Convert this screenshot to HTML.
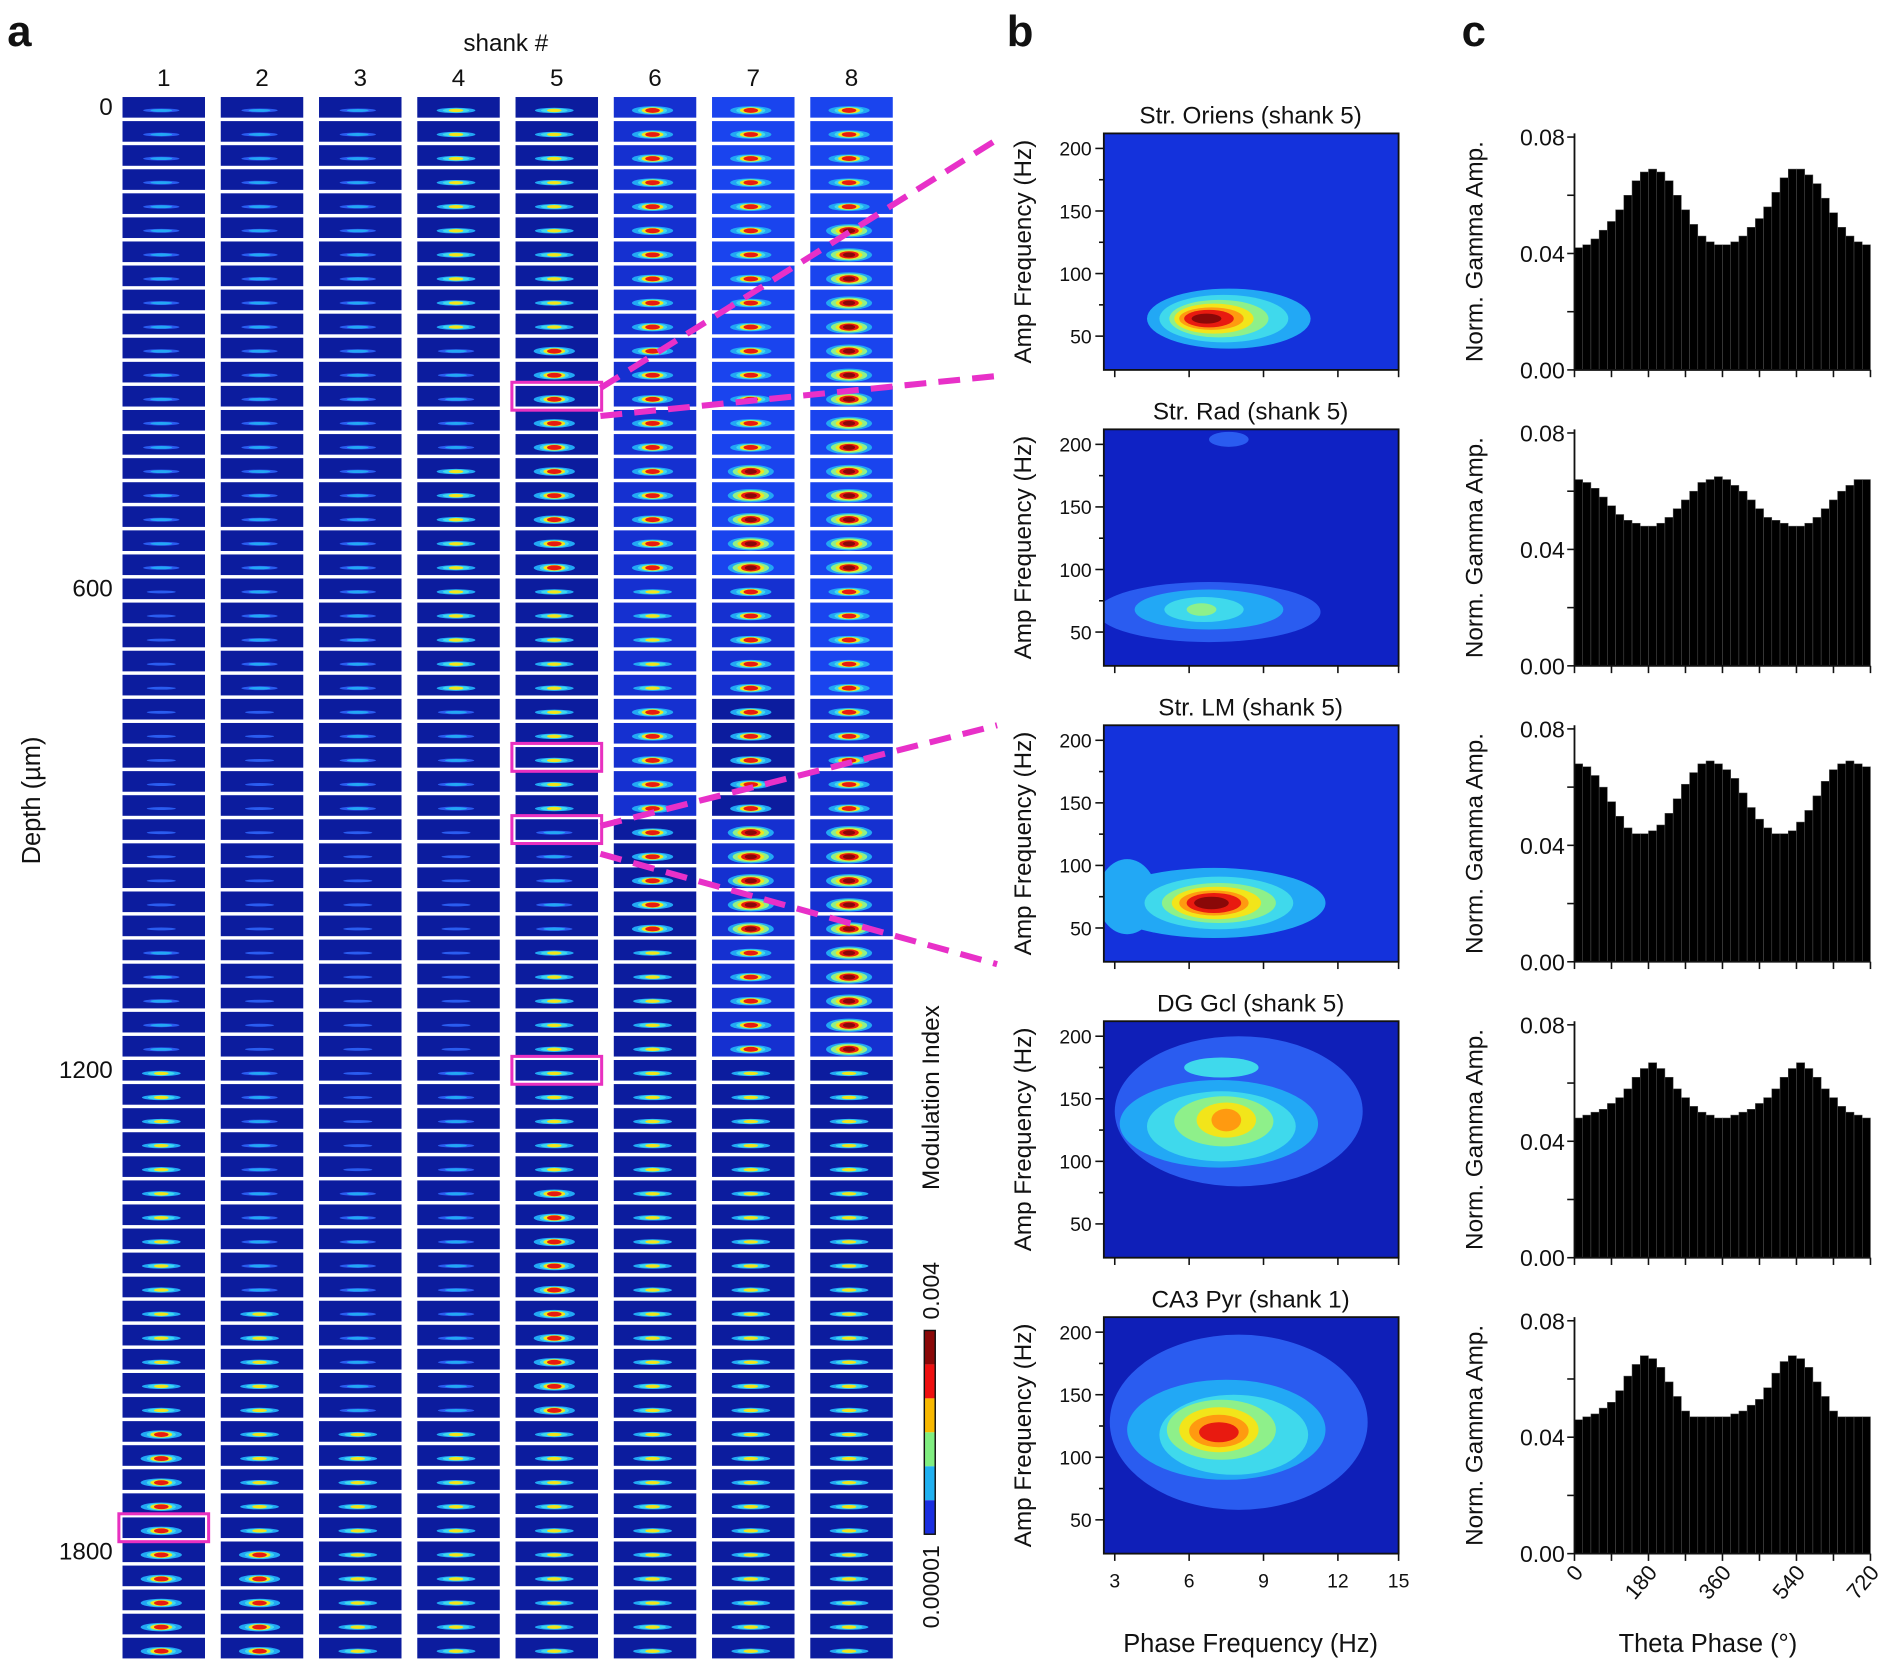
<!DOCTYPE html>
<html><head><meta charset="utf-8"><style>
html,body{margin:0;padding:0;background:#fff}
svg{display:block}
text{font-family:"Liberation Sans",Arial,sans-serif;fill:#111}
</style></head><body>
<svg id="fig" width="1902" height="1664" viewBox="0 0 1568 1372" preserveAspectRatio="none" xmlns="http://www.w3.org/2000/svg"></svg>
<script>
// ---------- DATA ----------
const shankLabels = ['1','2','3','4','5','6','7','8'];
const depthTicks = [0,600,1200,1800];
// coupling level per group of 5 depth rows (13 groups, 65 rows)
const shank1Levels = [1,1,1,1,0,0,0,1,2,2,2,3,3];
const shank2Levels = [1,1,1,1,1,0,0,0,1,1,2,2,3];
const shank3Levels = [1,1,1,1,1,1,0,0,0,1,1,2,2];
const shank4Levels = [2,2,1,2,2,1,0,0,1,1,1,2,2];
const shank5Levels = [2,2,3,3,2,2,1,2,2,3,3,2,2];
const shank6Levels = [3,3,3,3,2,3,3,2,2,2,2,2,2];
const shank7Levels = [3,3,3,4,3,3,4,3,2,2,2,2,2];
const shank8Levels = [3,4,4,4,3,3,4,4,2,2,2,2,2];
// background brightness per group
const shank6Bg = [1,1,1,1,1,1,0,0,0,0,0,0,0];
const shank7Bg = [2,2,2,2,1,0,1,1,0,0,0,0,0];
const shank8Bg = [2,2,2,2,2,1,1,1,0,0,0,0,0];
const highlightShank = [5,5,5,5,1];
const highlightRow = [12,27,30,40,59];

const ampTicks = [50,100,150,200];
const phaseTicks = [3,6,9,12,15];
const contourTitles = ['Str. Oriens (shank 5)','Str. Rad (shank 5)','Str. LM (shank 5)','DG Gcl (shank 5)','CA3 Pyr (shank 1)'];
// contour levels: [phaseCenter(Hz), ampCenter(Hz), phaseHalfWidth, ampHalfWidth, colorLevel]
const oriensContours = [[7.6,64,3.3,24,2],[7.4,64,2.6,19,3],[7.2,64,2.0,15,4],[7.0,64,1.6,12,5],[6.9,64,1.3,9,6],[6.8,64,1.0,7,7],[6.7,64,0.6,4,8]];
const radContours = [[6.8,66,4.5,24,1],[6.8,68,3.0,16,2],[6.6,68,1.6,10,3],[6.5,68,0.6,5,4],[7.6,204,0.8,6,1]];
const lmContours = [[7.0,70,4.5,28,2],[3.5,75,1.2,30,2],[7.2,70,3.0,21,3],[7.2,70,2.3,16,4],[7.1,70,1.8,13,5],[7.0,70,1.4,10,6],[7.0,70,1.1,8,7],[6.9,70,0.7,5,8]];
const dgContours = [[8.0,140,5.0,60,1],[7.2,130,4.0,35,2],[7.3,175,1.5,8,3],[7.3,128,3.0,28,3],[7.4,132,2.0,20,4],[7.5,133,1.2,14,5],[7.5,133,0.6,9,6]];
const ca3Contours = [[8.0,128,5.2,70,1],[7.5,122,4.0,40,2],[7.8,118,3.0,32,3],[7.3,122,2.2,24,4],[7.2,122,1.6,18,5],[7.2,121,1.2,13,6],[7.2,120,0.8,8,7]];
const contourBgs = ['#1432dc','#0f22c4','#1432dc','#0f1fb8','#0f1fb8'];

const phaseTickLabels = ['0','180','360','540','720'];
const normTicks = ['0.00','0.04','0.08'];
const oriensBars = [0.042,0.043,0.045,0.048,0.051,0.055,0.060,0.065,0.068,0.069,0.068,0.065,0.060,0.055,0.050,0.046,0.044,0.043,0.043,0.044,0.046,0.049,0.052,0.056,0.061,0.066,0.069,0.069,0.067,0.064,0.059,0.054,0.049,0.046,0.044,0.043];
const radBars = [0.064,0.063,0.061,0.058,0.055,0.052,0.050,0.049,0.048,0.048,0.049,0.051,0.054,0.057,0.060,0.063,0.064,0.065,0.064,0.062,0.060,0.057,0.054,0.051,0.050,0.049,0.048,0.048,0.049,0.051,0.054,0.057,0.060,0.062,0.064,0.064];
const lmBars = [0.068,0.067,0.064,0.060,0.055,0.050,0.046,0.044,0.044,0.045,0.047,0.051,0.056,0.061,0.065,0.068,0.069,0.068,0.066,0.063,0.058,0.053,0.049,0.046,0.044,0.044,0.045,0.048,0.052,0.057,0.062,0.066,0.068,0.069,0.068,0.067];
const dgBars = [0.048,0.049,0.050,0.051,0.053,0.055,0.058,0.062,0.065,0.067,0.065,0.062,0.058,0.055,0.052,0.050,0.049,0.048,0.048,0.049,0.050,0.051,0.053,0.055,0.058,0.062,0.065,0.067,0.065,0.062,0.058,0.055,0.052,0.050,0.049,0.048];
const ca3Bars = [0.046,0.047,0.048,0.050,0.052,0.056,0.061,0.065,0.068,0.067,0.064,0.059,0.054,0.049,0.047,0.047,0.047,0.047,0.047,0.048,0.049,0.051,0.053,0.057,0.062,0.066,0.068,0.067,0.064,0.059,0.054,0.049,0.047,0.047,0.047,0.047];

// ---------- HELPERS ----------
const NS='http://www.w3.org/2000/svg';
const svg=document.getElementById('fig');
function el(tag,attrs,parent){const e=document.createElementNS(NS,tag);for(const k in attrs)e.setAttribute(k,attrs[k]);(parent||svg).appendChild(e);return e;}
function txt(s,attrs,parent){const e=el('text',attrs,parent);e.textContent=s;return e;}
const jet=['#0c1a9c','#2a5cf0','#22a8f5','#3fd9ec','#8ef08a','#f2e51a','#ff9a10','#e81a10','#8a0808'];

// ---------- PANEL LETTERS ----------
[['a',6],['b',830],['c',1205]].forEach(([l,x])=>{
  const t=txt(l,{x:x,y:38,'font-size':36,'font-weight':'bold'});
  
  
});

// ---------- PANEL A ----------
const gA=el('g',{});


const colX=i=>101+i*81, tileW=68, rowPitch=19.85, rowTop=r=>80+r*rowPitch, tileH=17;
const depthY=d=>88+d/30*rowPitch;
let t=txt('shank #',{x:417,y:42,'font-size':20,'text-anchor':'middle'});


shankLabels.forEach((s,i)=>{
  const e=txt(s,{x:colX(i)+tileW/2,y:71,'font-size':20,'text-anchor':'middle'});
  
  
});
depthTicks.forEach(d=>{
  const e=txt(String(d),{x:93,y:depthY(d)+7,'font-size':20,'text-anchor':'end'});
  
  
});
t=txt('Depth (µm)',{x:0,y:0,'font-size':21,'text-anchor':'middle',transform:'translate(33,660) rotate(-90)'});


const allLevels=[shank1Levels,shank2Levels,shank3Levels,shank4Levels,shank5Levels,shank6Levels,shank7Levels,shank8Levels];
const zeroBg=[0,0,0,0,0,0,0,0,0,0,0,0,0];
const allBg=[zeroBg,zeroBg,zeroBg,zeroBg,zeroBg,shank6Bg,shank7Bg,shank8Bg];
const bgCols=['#0c1c9e','#1530d0','#1a44ee'];
for(let s=0;s<8;s++){
  for(let r=0;r<65;r++){
    const g=Math.min(12,Math.floor(r/5));
    const lv=allLevels[s][g], bg=allBg[s][g];
    const x=colX(s), y=rowTop(r);
    const tile=el('rect',{x:x,y:y,width:tileW,height:tileH,fill:bgCols[bg]},gA);
    
    
    const cx=x+tileW*0.47, cy=y+tileH*0.65;
    let rings;
    if(lv===0) rings=[[12,1.2,1]];
    else if(lv===1) rings=[[15,1.6,1],[9,1.2,2]];
    else if(lv===2) rings=[[16,2.2,2],[11,1.8,3],[6,1.4,5]];
    else if(lv===3) rings=[[17,3.5,2],[12,3,3],[9,2.5,5],[6,2,7]];
    else rings=[[19,5.5,2],[15,4.5,4],[11,3.5,5],[8,3,7],[5,2,8]];
    rings.forEach(([rx,ry,c])=>{
      el('ellipse',{cx:cx,cy:cy,rx:rx,ry:ry,fill:jet[c]},gA);
    });
  }
}
// highlight boxes
highlightShank.forEach((s,i)=>{
  const b=el('rect',{x:colX(s-1)-3,y:rowTop(highlightRow[i])-3,width:tileW+6,height:tileH+6,fill:'none',stroke:'#e830c0','stroke-width':2.5});
  
  
});
// dashed connectors
[[495,320,822,115],[495,343,822,310],[495,681,822,598],[495,704,822,795]].forEach((c,i)=>{
  const l=el('line',{x1:c[0],y1:c[1],x2:c[2],y2:c[3],stroke:'#e830c8','stroke-width':5,'stroke-dasharray':'18 10'});
  
  
});
// colorbar
const cb=el('g',{});


const cbCols=['#8a0808','#ee1010','#f7b800','#80ee80','#20b0f0','#1a2ee0'];
cbCols.forEach((c,i)=>el('rect',{x:762,y:1097+i*28,width:9,height:28,fill:c},cb));
el('rect',{x:762,y:1097,width:9,height:168,fill:'none',stroke:'#111','stroke-width':1.2},cb);
t=txt('0.004',{x:0,y:0,'font-size':19,'text-anchor':'start',transform:'translate(774,1088) rotate(-90)'});


t=txt('0.00001',{x:0,y:0,'font-size':19,'text-anchor':'end',transform:'translate(774,1274) rotate(-90)'});


t=txt('Modulation Index',{x:0,y:0,'font-size':20,'text-anchor':'middle',transform:'translate(774,905) rotate(-90)'});



// ---------- PANEL B ----------
const tops=[110,354,598,842,1086], ph=195;
const bL=910,bR=1153;
const xPhase=p=>919+(p-3)*20.44;
const yAmp=(top,a)=>top+(212-a)*ph/189;
const allContours=[oriensContours,radContours,lmContours,dgContours,ca3Contours];
allContours.forEach((cs,i)=>{
  const top=tops[i];
  const g=el('g',{});
  
  
  const cp=el('clipPath',{id:'cp'+i},g);
  el('rect',{x:bL,y:top,width:bR-bL,height:ph},cp);
  const inner=el('g',{'clip-path':'url(#cp'+i+')'},g);
  el('rect',{x:bL,y:top,width:bR-bL,height:ph,fill:contourBgs[i]},inner);
  cs.forEach(c=>{
    const e=el('ellipse',{cx:xPhase(c[0]),cy:yAmp(top,c[1]),rx:c[2]*20.44,ry:c[3]*ph/189,fill:jet[c[4]]},inner);
    
    
  });
  el('rect',{x:bL,y:top,width:bR-bL,height:ph,fill:'none',stroke:'#111','stroke-width':1.5},g);
  const tt=txt(contourTitles[i],{x:1031,y:top-8,'font-size':20,'text-anchor':'middle'},g);
  
  
  [50,75,100,125,150,175,200].forEach(a=>{
    el('line',{x1:bL-(a%50?4:7),x2:bL,y1:yAmp(top,a),y2:yAmp(top,a),stroke:'#111','stroke-width':1.3},g);
  });
  ampTicks.forEach(a=>{
    const e=txt(String(a),{x:bL-10,y:yAmp(top,a)+6,'font-size':16,'text-anchor':'end'},g);
    
    
  });
  phaseTicks.forEach(p=>el('line',{x1:Math.min(xPhase(p),bR),x2:Math.min(xPhase(p),bR),y1:top+ph,y2:top+ph+6,stroke:'#111','stroke-width':1.3},g));
  const yl=txt('Amp Frequency (Hz)',{x:0,y:0,'font-size':20,'text-anchor':'middle',transform:'translate(850,'+(top+ph/2)+') rotate(-90)'},g);
  
  
});
phaseTicks.forEach(p=>{
  const e=txt(String(p),{x:Math.min(xPhase(p),bR),y:1309,'font-size':16,'text-anchor':'middle'});
  
  
});
t=txt('Phase Frequency (Hz)',{x:1031,y:1362,'font-size':21,'text-anchor':'middle'});



// ---------- PANEL C ----------
const cL=1298,cR=1542;
const xTheta=d=>cL+d/720*(cR-cL);
const yNorm=(top,v)=>top+ph-v/0.08*(ph-3);
const allBars=[oriensBars,radBars,lmBars,dgBars,ca3Bars];
allBars.forEach((vals,i)=>{
  const top=tops[i];
  const g=el('g',{});
  
  
  const bw=(cR-cL)/vals.length;
  vals.forEach((v,k)=>{
    const b=el('rect',{x:xTheta(k*20),y:yNorm(top,v),width:bw,height:top+ph-yNorm(top,v),fill:'#000',stroke:'#555','stroke-width':0.4},g);
    
    
  });
  el('line',{x1:cL,x2:cL,y1:top,y2:top+ph,stroke:'#111','stroke-width':1.5},g);
  el('line',{x1:cL,x2:cR,y1:top+ph,y2:top+ph,stroke:'#111','stroke-width':1.5},g);
  [0,0.02,0.04,0.06,0.08].forEach(v=>el('line',{x1:cL-6,x2:cL,y1:yNorm(top,v),y2:yNorm(top,v),stroke:'#111','stroke-width':1.3},g));
  normTicks.forEach(s=>{
    const e=txt(s,{x:cL-8,y:yNorm(top,parseFloat(s))+7,'font-size':19,'text-anchor':'end'},g);
    
    
  });
  [0,90,180,270,360,450,540,630,720].forEach(d=>el('line',{x1:xTheta(d),x2:xTheta(d),y1:top+ph,y2:top+ph+6,stroke:'#111','stroke-width':1.3},g));
  const yl=txt('Norm. Gamma Amp.',{x:0,y:0,'font-size':20,'text-anchor':'middle',transform:'translate(1222,'+(top+ph/2)+') rotate(-90)'},g);
  
  
});
phaseTickLabels.forEach(s=>{
  const x=xTheta(parseFloat(s));
  const e=txt(s,{x:0,y:0,'font-size':18,'text-anchor':'end',transform:'translate('+(x+8)+',1297) rotate(-50)'});
  
  
});
t=txt('Theta Phase (°)',{x:1408,y:1362,'font-size':21,'text-anchor':'middle'});


</script>
</body></html>
